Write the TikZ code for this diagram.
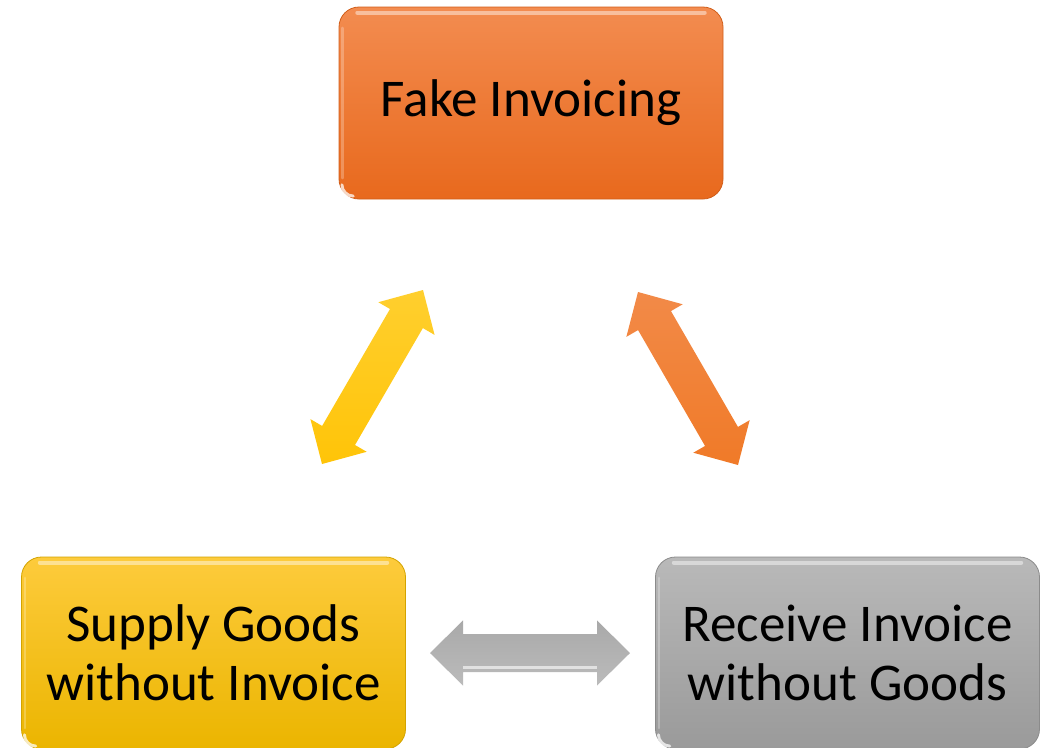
\documentclass[tikz,border=0pt]{standalone}
\usepackage{fontspec}
\setmainfont{Carlito}
\usetikzlibrary{calc}

\definecolor{orTop}{HTML}{F38C50}
\definecolor{orBot}{HTML}{E8691D}
\definecolor{yeTop}{HTML}{FDCB3C}
\definecolor{yeMid}{HTML}{FFC400}
\definecolor{yeBot}{HTML}{EBB500}
\definecolor{grTop}{HTML}{B9B9B9}
\definecolor{grBot}{HTML}{9A9A9A}
\definecolor{arYe}{HTML}{FFC408}
\definecolor{arYeLt}{HTML}{FFCF2E}
\definecolor{arOr}{HTML}{F07A28}
\definecolor{arOrLt}{HTML}{F28A48}
\definecolor{arGr}{HTML}{A9A9A9}
\definecolor{arGrLt}{HTML}{BBBBBB}

% arrow geometry: head length, half head width, half shaft width
\newcommand\hl{24.75pt}
\newcommand\hw{24.4pt}
\newcommand\sw{14.25pt}
% double-headed block arrow between two tip coordinates
\newcommand\twowayarrow[3]{%
  \path[#3] (#1)
   -- ($(#1)!\hl!(#2)!\hw!90:(#2)$)
   -- ($(#1)!\hl!(#2)!\sw!90:(#2)$)
   -- ($(#2)!\hl!(#1)!\sw!-90:(#1)$)
   -- ($(#2)!\hl!(#1)!\hw!-90:(#1)$)
   -- (#2)
   -- ($(#2)!\hl!(#1)!\hw!90:(#1)$)
   -- ($(#2)!\hl!(#1)!\sw!90:(#1)$)
   -- ($(#1)!\hl!(#2)!\sw!-90:(#2)$)
   -- ($(#1)!\hl!(#2)!\hw!-90:(#2)$)
   -- cycle;}

\tikzset{
  box/.style={rounded corners=15pt, minimum width=288pt, minimum height=144pt,
    inner sep=0pt, align=center, text=black,
    font=\fontsize{39.8}{44}\selectfont},
  orangebox/.style={box, top color=orTop, bottom color=orBot, draw=orBot!90!black, line width=0.6pt},
  yellowbox/.style={box, top color=yeTop, middle color=yeMid, bottom color=yeBot, draw=yeBot!90!black, line width=0.6pt},
  graybox/.style={box, top color=grTop, bottom color=grBot, draw=grBot!90!black, line width=0.6pt},
  gloss/.style={white, opacity=0.45, line width=3pt, line cap=round},
}

\begin{document}
\begin{tikzpicture}[x=0.75pt,y=-0.75pt]
\useasboundingbox (0,0) rectangle (1048,747);
\clip (0,0) rectangle (1048,747);

% boxes
\node[orangebox] (fake) at (531,103) {Fake Invoicing};
\node[yellowbox] (supply) at (213.5,653) {Supply Goods\\without Invoice};
\node[graybox] (receive) at (847.5,653) {Receive Invoice\\without Goods};

% glossy highlights along the edges
\foreach \b in {fake,supply,receive}{
  \draw[gloss] ([xshift=14pt,yshift=-4.5pt]\b.north west) -- ([xshift=-14pt,yshift=-4.5pt]\b.north east);
  \draw[white, opacity=0.25, line width=2pt, line cap=round]
    ([xshift=3pt,yshift=-16pt]\b.north west) -- ([xshift=3pt,yshift=16pt]\b.south west);
  \draw[white, opacity=0.75, line width=2.2pt, line cap=round]
    ([xshift=2.5pt,yshift=11pt]\b.south west) arc[start angle=180, end angle=270, radius=8.5pt];
}

% arrow end points
\coordinate (ya) at (322,464);
\coordinate (yb) at (423,290);
\coordinate (oa) at (638,292);
\coordinate (ob) at (738,465);
\coordinate (ga) at (430,653);
\coordinate (gb) at (630,653);

% two-way arrows
\twowayarrow{ya}{yb}{top color=arYeLt, bottom color=arYe}
\twowayarrow{oa}{ob}{top color=arOrLt, bottom color=arOr}
\twowayarrow{ga}{gb}{top color=arGr, bottom color=arGrLt}

% light streak on the lower side of the grey shaft
\draw[white, opacity=0.6, line width=2pt]
  ($(ga)!\hl!(gb)!11pt!-90:(gb)$) -- ($(gb)!\hl!(ga)!11pt!90:(ga)$);
\end{tikzpicture}
\end{document}
